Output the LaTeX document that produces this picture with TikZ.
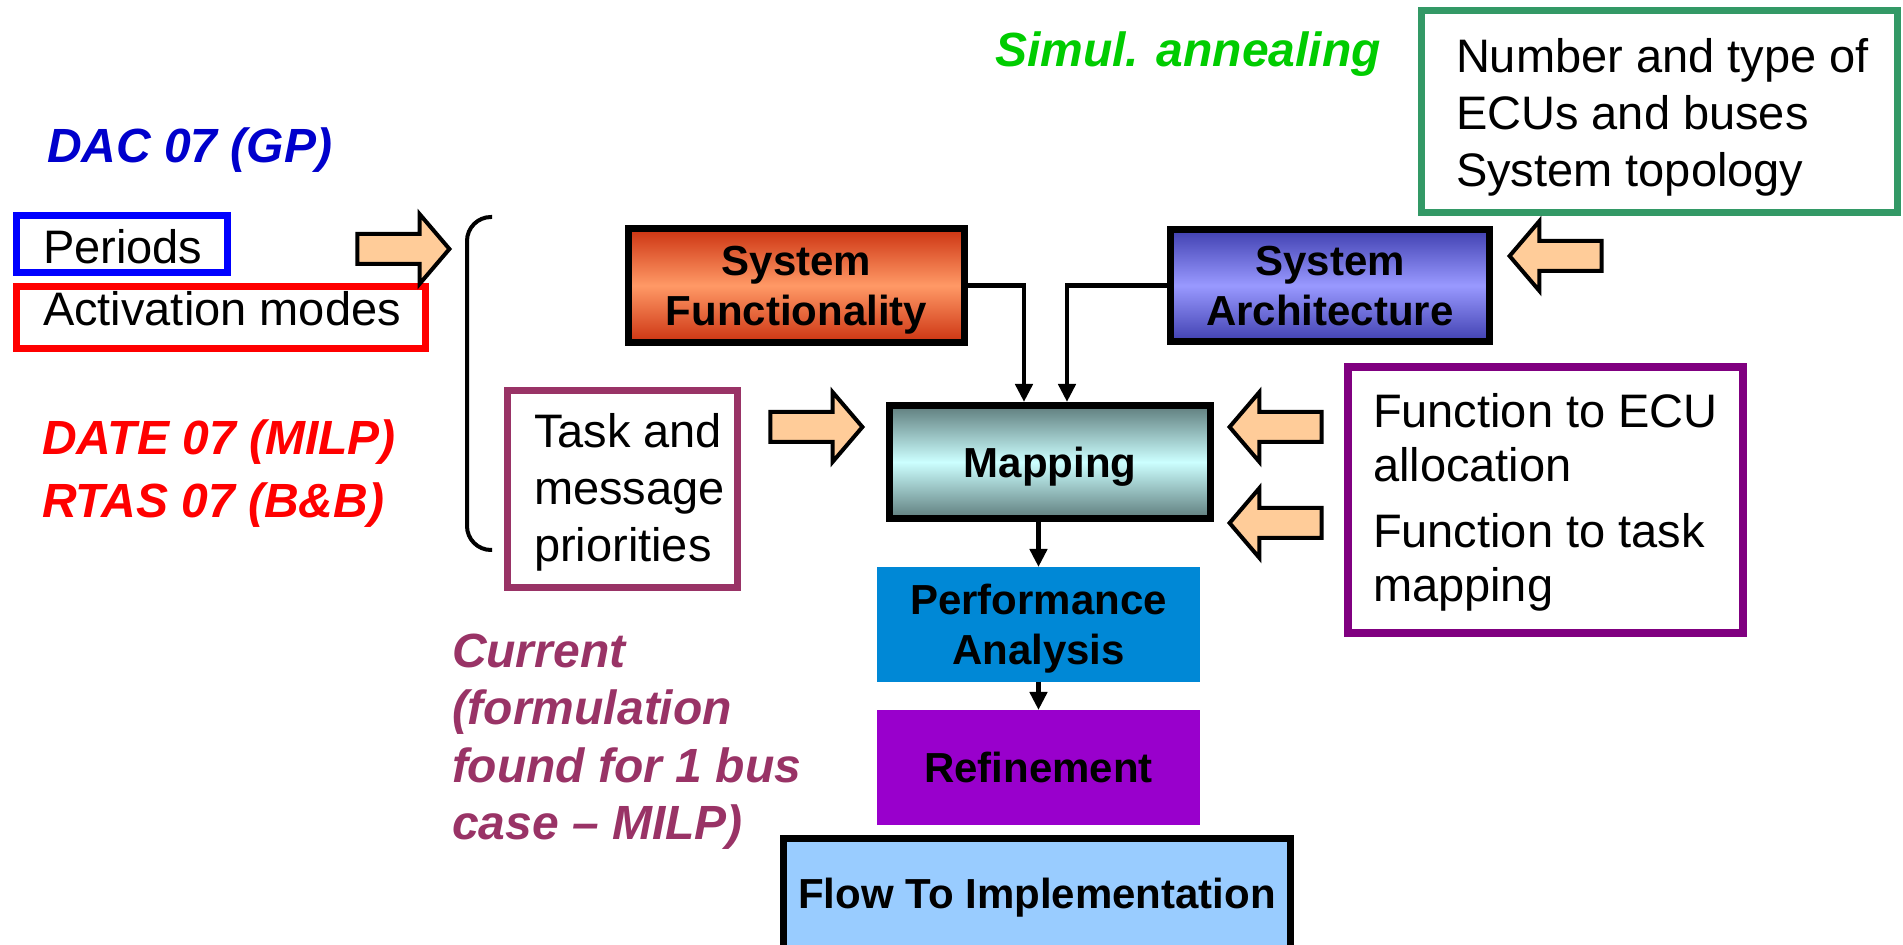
\documentclass[tikz,border=0pt]{standalone}
\usepackage{fontspec}
\setmainfont{Liberation Sans}
\usetikzlibrary{shapes.arrows,arrows.meta}
\definecolor{peach}{RGB}{255,204,153}
\definecolor{dacblue}{RGB}{0,0,204}
\definecolor{simgreen}{RGB}{0,204,0}
\definecolor{boxgreen}{RGB}{51,153,102}
\definecolor{maroonx}{RGB}{153,51,102}
\definecolor{fnpurple}{RGB}{128,0,128}
\definecolor{sfdark}{RGB}{204,51,17}
\definecolor{sflight}{RGB}{255,153,102}
\definecolor{sadark}{RGB}{64,64,176}
\definecolor{salight}{RGB}{153,153,255}
\definecolor{mapdark}{RGB}{95,125,125}
\definecolor{maplight}{RGB}{204,255,255}
\definecolor{pablue}{RGB}{0,136,214}
\definecolor{refpurple}{RGB}{153,0,204}
\definecolor{flowblue}{RGB}{153,204,255}
\tikzset{
  every node/.style={inner sep=0pt, outer sep=0pt},
  frame/.style={draw, line width=3.5pt},
  bbox/.style={draw=black, line width=3.5pt, outer sep=1.75pt, align=center,
    font=\fontsize{21}{25}\selectfont\bfseries},
  flatbox/.style={align=center, font=\fontsize{21}{25}\selectfont\bfseries},
  blk/.style={single arrow, draw=black, fill=peach, line width=2pt,
    inner xsep=0pt, inner ysep=6.5pt,
    minimum height=46pt, minimum width=32pt, single arrow head extend=10pt,
    single arrow tip angle=99},
  conn/.style={line width=2.25pt, -{Triangle[length=9pt,width=8.5pt]}},
  ntext/.style={font=\fontsize{23.5}{28.5}\selectfont, align=left, anchor=base west},
  btext/.style={font=\fontsize{24}{28.75}\selectfont\bfseries\itshape, align=left, anchor=base west},
}
\begin{document}
\begin{tikzpicture}[x=0.5pt,y=-0.5pt]
\useasboundingbox (0,0) rectangle (1903,945);
\fill[white] (0,0) rectangle (1903,945);

% left side
\node[btext, text=dacblue] (dac) at (47,163) {DAC 07 (GP)};
\node[frame, draw=blue, minimum width=105.5pt, minimum height=28.5pt] (per) at (122,244) {};
\node[frame, draw=red, minimum width=204.5pt, minimum height=31pt] (act) at (221,317.5) {};
\node[ntext] (pert) at (43,264) {Periods};
\node[ntext] (actt) at (43,326) {Activation modes};
\node[btext, text=red, font=\fontsize{24}{31.5}\selectfont\bfseries\itshape] (date) at (42,518) {DATE 07 (MILP)\\RTAS 07 (B\&B)};
\node[blk] (a1) at (397,249) {};
\draw[line width=2pt, rounded corners=12pt] (492,217) -- (467,217) -- (467,550) -- (492,550);

% task box
\node[frame, draw=maroonx, minimum width=115pt, minimum height=98.5pt] (task) at (622,489.5) {};
\node[ntext] (taskt) at (534,562) {Task and\\message\\priorities};
\node[blk] (a2) at (810,427) {};

\node[btext, text=maroonx] (cur) at (452,840) {Current\\(formulation\\found for 1 bus\\case – MILP)};

% central flow
\node[bbox, text depth=0pt, top color=sfdark, bottom color=sfdark, middle color=sflight,
  minimum width=168pt, minimum height=57pt] (sf) at (796.5,285.5) {System\\Functionality};
\node[bbox, text depth=0pt, top color=sadark, bottom color=sadark, middle color=salight,
  minimum width=159.5pt, minimum height=56pt] (sa) at (1330,285.5) {System\\Architecture};
\node[bbox, text depth=0pt, top color=mapdark, bottom color=mapdark, middle color=maplight,
  minimum width=160.5pt, minimum height=56.5pt] (map) at (1050,462) {Mapping};
\node[flatbox, text depth=0pt, fill=pablue, minimum width=161.5pt, minimum height=57.5pt] (pa) at (1038.5,624.5) {Performance\\Analysis};
\node[flatbox, text depth=0pt, fill=refpurple, minimum width=161.5pt, minimum height=57.5pt] (ref) at (1038.5,767.5) {Refinement};
\node[bbox, fill=flowblue, minimum width=253.5pt, minimum height=59.75pt] (flow) at (1037,898) {Flow To Implementation};

\draw[conn] (sf.east) -| ([xshift=-13pt]map.north);
\draw[conn] (sa.west) -| ([xshift=8.5pt]map.north);
\draw[conn] (map.south -| pa.north) -- (pa.north);
\draw[conn] (pa.south) -- (ref.north);

% right side
\node[btext, text=simgreen] (sim) at (995,67) {Simul. annealing};
\node[frame, draw=boxgreen, minimum width=238pt, minimum height=101pt] (green) at (1659,112) {};
\node[ntext] (greent) at (1456,187) {Number and type of\\ECUs and buses\\System topology};
\node[blk, shape border rotate=180] (a3) at (1562,256) {};

\node[frame, draw=fnpurple, line width=4pt, minimum width=197.5pt, minimum height=133pt] (fn) at (1545.5,500) {};
\node[ntext, font=\fontsize{23.5}{27}\selectfont] (fnt) at (1373,602) {Function to ECU\\allocation\\[6pt]Function to task\\mapping};
\node[blk, shape border rotate=180] (a4) at (1282,427) {};
\node[blk, shape border rotate=180] (a5) at (1282,523) {};
\end{tikzpicture}
\end{document}
